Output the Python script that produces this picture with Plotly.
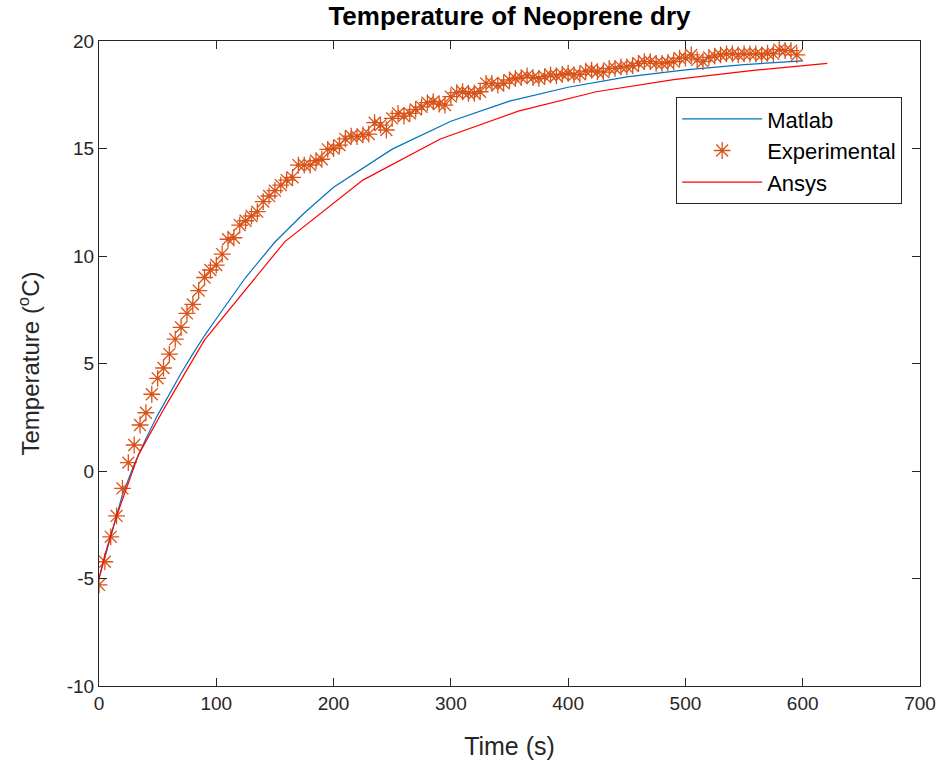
import plotly.graph_objects as go

# Experimental data (every 5 s)
exp_t = list(range(0, 600, 5))
exp_T = [-5.30, -4.22, -3.06, -2.09, -0.81, 0.39, 1.21, 2.14, 2.71, 3.57,
         4.31, 4.79, 5.44, 6.13, 6.68, 7.33, 7.75, 8.39, 9.00, 9.35,
         9.58, 10.09, 10.78, 10.85, 11.44, 11.64, 11.86, 12.06, 12.53, 12.79,
         13.04, 13.30, 13.53, 13.66, 14.23, 14.23, 14.23, 14.43, 14.50, 14.96,
         15.00, 15.16, 15.45, 15.58, 15.55, 15.63, 15.67, 16.20, 16.09, 15.86,
         16.40, 16.63, 16.51, 16.63, 16.82, 16.94, 17.13, 17.18, 17.07, 17.02,
         17.41, 17.60, 17.64, 17.57, 17.57, 17.64, 18.03, 18.03, 17.95, 18.03,
         18.19, 18.26, 18.30, 18.38, 18.30, 18.26, 18.34, 18.42, 18.38, 18.45,
         18.50, 18.42, 18.45, 18.60, 18.65, 18.57, 18.55, 18.73, 18.73, 18.80,
         18.80, 18.85, 18.96, 19.04, 19.04, 18.96, 18.96, 19.00, 19.04, 19.20,
         19.20, 19.35, 19.12, 19.04, 19.24, 19.30, 19.35, 19.40, 19.40, 19.35,
         19.40, 19.40, 19.40, 19.35, 19.43, 19.40, 19.60, 19.55, 19.55, 19.35]

# Matlab model curve
matlab_t = [0, 5, 10, 20, 30, 40, 50, 60, 70, 80, 90, 100, 125, 150, 175, 200,
            250, 300, 350, 400, 450, 500, 550, 600]
matlab_T = [-5.0, -4.0, -3.0, -1.1, 0.3, 1.5, 2.6, 3.6, 4.55, 5.45, 6.3, 7.08,
            9.0, 10.65, 12.0, 13.2, 14.97, 16.27, 17.2, 17.85, 18.33, 18.66,
            18.9, 19.08]

# Ansys simulation
ansys_t = [0, 5, 15, 33.5, 56, 90, 158.5, 225, 291, 357.5, 424, 490, 556, 621]
ansys_T = [-5.0, -3.9, -2.1, 0.74, 2.95, 6.1, 10.67, 13.53, 15.44, 16.74,
           17.64, 18.2, 18.62, 18.96]

x_ticks = [0, 100, 200, 300, 400, 500, 600, 700]
x_ticktext = ["0", "100", "200", "300", "400", "500", "600", "700"]
y_ticks = [-10, -5, 0, 5, 10, 15, 20]
y_ticktext = ["-10", "-5", "0", "5", "10", "15", "20"]

FONT = "Liberation Sans, Arial, sans-serif"
AXC = "#262626"

fig = go.Figure()
fig.add_trace(go.Scatter(x=matlab_t, y=matlab_T, mode="lines", name="Matlab",
                         legendgroup="a",
                         line=dict(color="#0072BD", width=1.2)))
fig.add_trace(go.Scatter(x=exp_t, y=exp_T, mode="markers", name="Experimental",
                         legendgroup="b",
                         marker=dict(symbol="asterisk-open", size=14, color="#D95319",
                                     line=dict(color="#D95319", width=1.3))))
fig.add_trace(go.Scatter(x=ansys_t, y=ansys_T, mode="lines", name="Ansys",
                         legendgroup="c",
                         line=dict(color="#FF0000", width=1.2)))

axis_common = dict(showline=True, linecolor=AXC, linewidth=1, mirror="ticks",
                   ticks="inside", ticklen=8, tickcolor=AXC, tickwidth=1,
                   showgrid=False, zeroline=False, automargin=False,
                   tickfont=dict(family=FONT, size=19, color=AXC))

fig.update_layout(
    width=948, height=771,
    margin=dict(l=99, r=28, t=41, b=85),
    paper_bgcolor="white", plot_bgcolor="white",
    font=dict(family=FONT, color=AXC),
    title=dict(text="<b>Temperature of Neoprene dry</b>", x=0.5, xref="paper",
               y=1 - 16 / 771, yref="container", yanchor="middle", xanchor="center",
               font=dict(family=FONT, size=26, color="black")),
    xaxis=dict(range=[0, 700], tickvals=x_ticks, ticktext=x_ticktext,
               title=dict(text="Time (s)", font=dict(family=FONT, size=25, color=AXC),
                          standoff=24),
               **axis_common),
    yaxis=dict(range=[-10, 20], tickvals=y_ticks, ticktext=y_ticktext,
               title=dict(text="Temperature (<sup>o</sup>C)",
                          font=dict(family=FONT, size=24, color=AXC), standoff=20),
               **axis_common),
    legend=dict(x=0.703, y=0.913, xanchor="left", yanchor="top",
                bgcolor="white", bordercolor=AXC, borderwidth=1,
                font=dict(family=FONT, size=22, color="black"),
                itemwidth=80, tracegroupgap=0, traceorder="grouped"),
    showlegend=True,
)

fig.write_html("out.html", config={"displayModeBar": False},
               post_script="document.body.style.margin='0';")
